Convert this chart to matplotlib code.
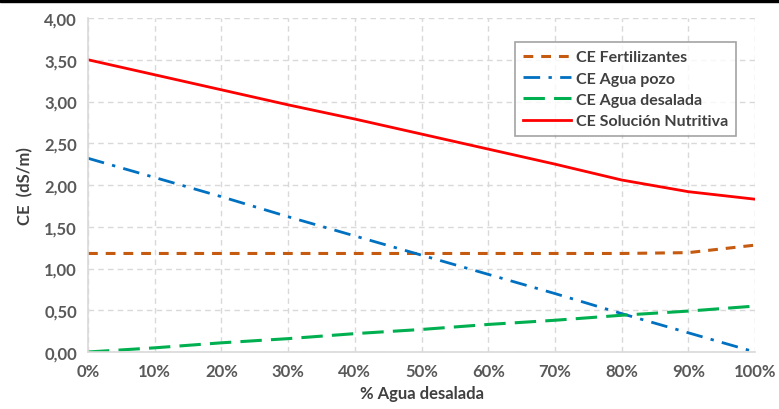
import matplotlib
matplotlib.use("Agg")
import matplotlib.pyplot as plt
from matplotlib.ticker import FuncFormatter, FixedLocator

pct = [0, 10, 20, 30, 40, 50, 60, 70, 80, 90, 100]
ce_fert = [1.18, 1.18, 1.18, 1.18, 1.18, 1.18, 1.18, 1.18, 1.18, 1.19, 1.28]
ce_pozo = [2.32, 2.09, 1.86, 1.62, 1.39, 1.16, 0.93, 0.70, 0.46, 0.23, 0.00]
ce_desal = [0.00, 0.05, 0.11, 0.16, 0.22, 0.27, 0.33, 0.38, 0.44, 0.49, 0.55]
ce_sol = [3.50, 3.32, 3.14, 2.96, 2.79, 2.61, 2.43, 2.25, 2.06, 1.92, 1.83]
y_ticks = [0, 0.5, 1.0, 1.5, 2.0, 2.5, 3.0, 3.5, 4.0]

plt.rcParams['font.family'] = ['Lato', 'DejaVu Sans']

W, H = 779, 410
fig = plt.figure(figsize=(W / 100, H / 100), dpi=100)
ax = fig.add_axes([88 / W, 1 - 353 / H, (755 - 88) / W, (353 - 19) / H])

# top black bar
fig.add_artist(plt.Rectangle((0, 1 - 3 / H), 1, 3 / H, transform=fig.transFigure,
                             color='black', zorder=10))

ax.plot(pct, ce_fert, color='#C55A11', lw=2.2, dashes=(3.2, 2.6), label='CE Fertilizantes')
ax.plot(pct, ce_pozo, color='#0070C0', lw=2.0, dashes=(6, 3, 1.2, 3), label='CE Agua pozo')
ax.plot(pct, ce_desal, color='#00B050', lw=2.2, dashes=(7, 3), label='CE Agua desalada')
ax.plot(pct, ce_sol, color='#FF0000', lw=2.0, label='CE Solución Nutritiva')

ax.set_xlim(0, 100)
ax.set_ylim(0, 4)
ax.xaxis.set_major_locator(FixedLocator(pct))
ax.yaxis.set_major_locator(FixedLocator(y_ticks))
ax.xaxis.set_major_formatter(FuncFormatter(lambda v, p: f"{int(round(v))}%"))
ax.yaxis.set_major_formatter(FuncFormatter(lambda v, p: f"{v:.2f}".replace('.', ',')))

ax.grid(True, color='#D9D9D9', lw=1.0, ls=(0, (4, 3)))
ax.set_axisbelow(True)
for s in ['top', 'right']:
    ax.spines[s].set_visible(False)
for s in ['left', 'bottom']:
    ax.spines[s].set_color('#D9D9D9')
    ax.spines[s].set_linewidth(1.2)
ax.tick_params(length=0, labelsize=12, labelcolor='#595959', pad=8)
for lab in ax.get_xticklabels() + ax.get_yticklabels():
    lab.set_fontweight('bold')

ax.set_xlabel('% Agua desalada', fontsize=12, color='#404040', fontweight='bold', labelpad=4)
ax.set_ylabel('CE  (dS/m)', fontsize=12, color='#404040', fontweight='bold', labelpad=8)

leg = ax.legend(loc='upper left', bbox_to_anchor=((515 - 88) / (755 - 88), (353 - 43) / (353 - 19)),
                frameon=True, fancybox=False, fontsize=11.5, handlelength=3.0,
                borderpad=0.5, labelspacing=0.45, handletextpad=0.3, borderaxespad=0)
leg.get_frame().set_edgecolor('#8C8C8C')
leg.get_frame().set_linewidth(1.2)
for t in leg.get_texts():
    t.set_color('#404040')
    t.set_fontweight('bold')

fig.savefig('out.png', dpi=100)
